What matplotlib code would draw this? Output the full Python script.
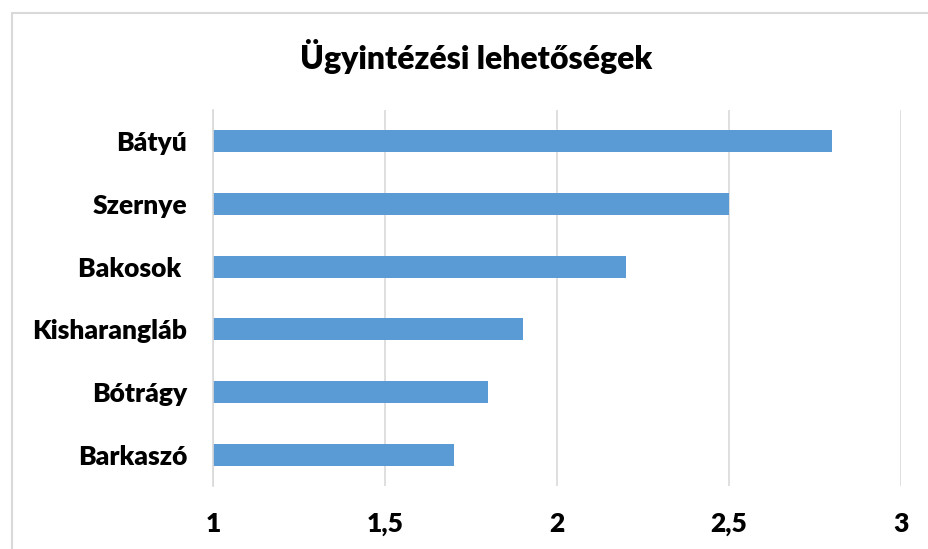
import matplotlib
matplotlib.use("Agg")
from matplotlib import pyplot as plt
from matplotlib.patches import Rectangle

plt.rcParams['font.family'] = ['Lato', 'DejaVu Sans']

# data
categories = ["Bátyú", "Szernye", "Bakosok ", "Kisharangláb", "Bótrágy", "Barkaszó"]
values = [2.8, 2.5, 2.2, 1.9, 1.8, 1.7]
xticks = [1, 1.5, 2, 2.5, 3]
xtick_labels = ["1", "1,5", "2", "2,5", "3"]

W, H = 929, 549
fig = plt.figure(figsize=(W / 100, H / 100), dpi=100)

# chart area border (light gray)
fig.patches.append(Rectangle((12 / W, -0.1), 1.2, 1 - 13 / H + 0.1,
                             transform=fig.transFigure, fill=False,
                             edgecolor="#D9D9D9", linewidth=1.5))

ax = fig.add_axes([213 / W, 1 - 486 / H, (901 - 213) / W, (486 - 110) / H])

ypos = list(range(len(categories)))
ax.barh(ypos, [v - 1 for v in values], left=1, height=0.35, color="#5B9BD5")

ax.set_xlim(1, 3)
ax.set_ylim(len(categories) - 0.5, -0.5)
ax.set_xticks(xticks)
ax.set_xticklabels(xtick_labels)
ax.set_yticks(ypos)
ax.set_yticklabels(categories)
ax.grid(axis="x", color="#D9D9D9", linewidth=1.2)
ax.set_axisbelow(True)

for s in ["top", "right", "bottom"]:
    ax.spines[s].set_visible(False)
ax.spines["left"].set_color("#D9D9D9")
ax.spines["left"].set_linewidth(1.2)

ax.tick_params(axis="both", length=0, labelsize=19)
ax.tick_params(axis="y", pad=18.5)
ax.tick_params(axis="x", pad=19)
for lab in ax.get_xticklabels() + ax.get_yticklabels():
    lab.set_fontweight("heavy")

fig.text(476 / W, 1 - 57 / H, "Ügyintézési lehetőségek", ha="center", va="center",
         fontsize=23, fontweight="heavy")

fig.savefig("out.png", dpi=100)
